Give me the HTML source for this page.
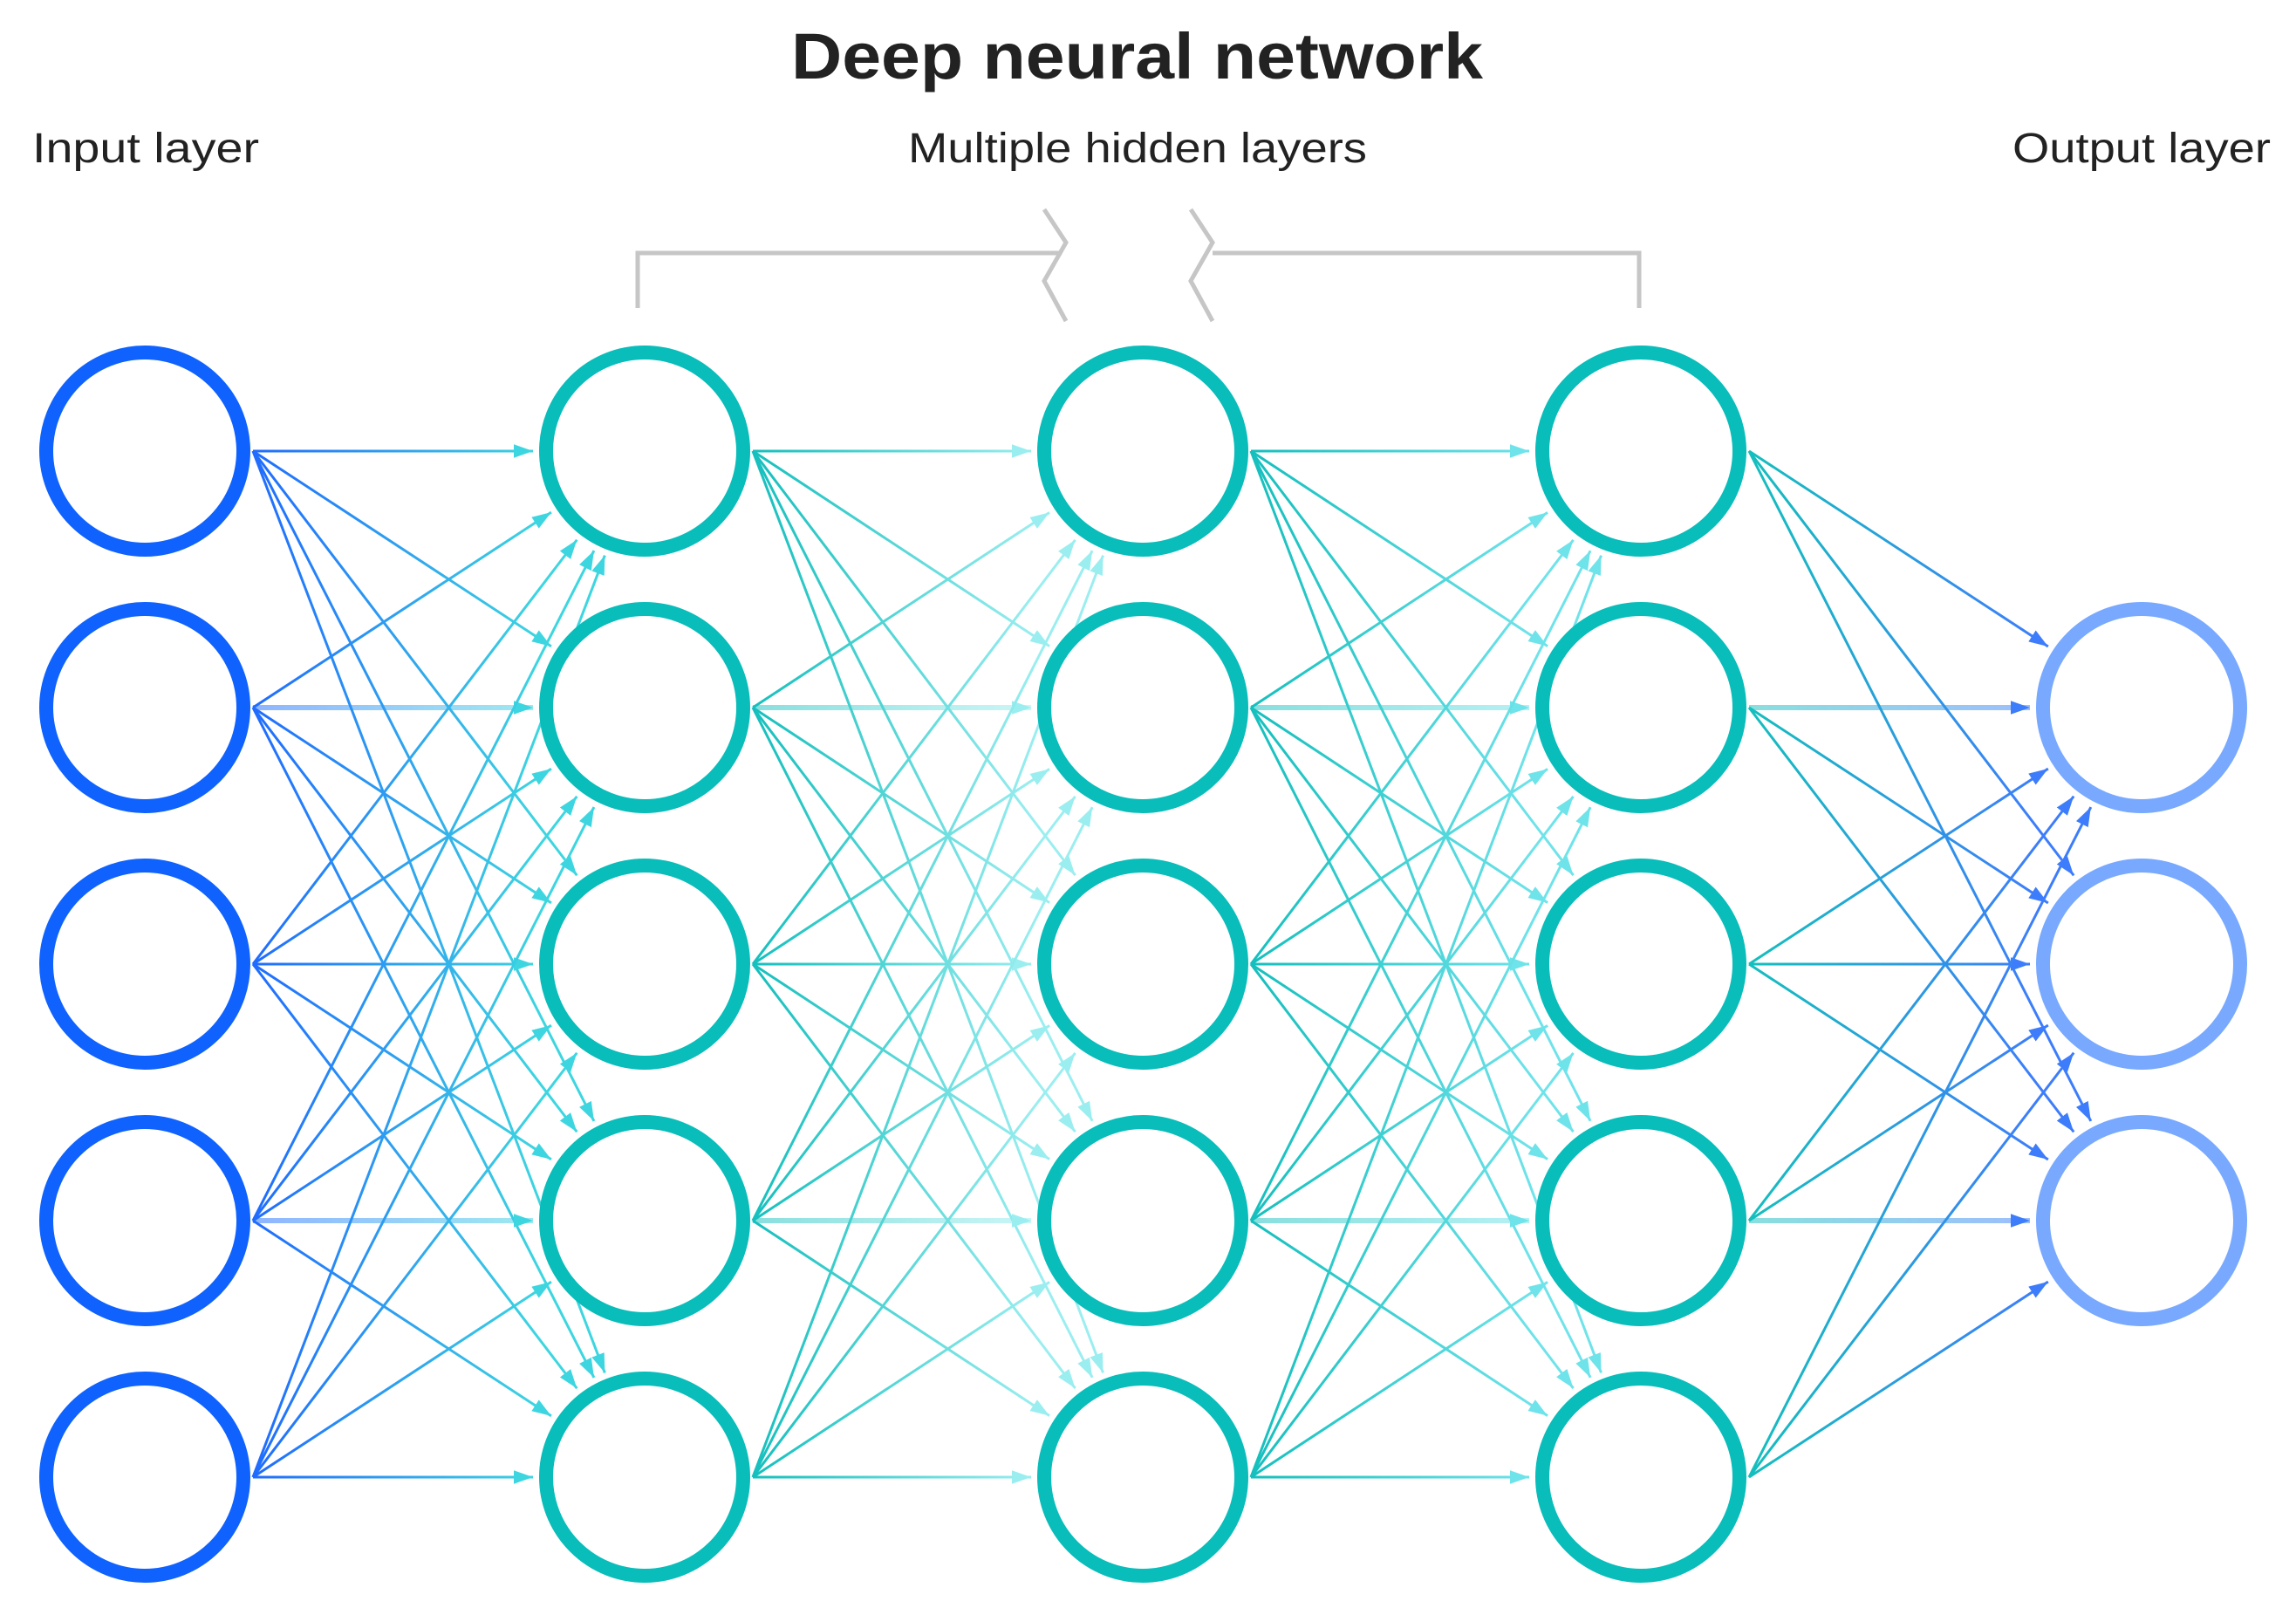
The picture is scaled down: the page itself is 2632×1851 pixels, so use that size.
<!DOCTYPE html>
<html><head><meta charset="utf-8">
<style>
html,body{margin:0;padding:0;background:#fff;}
svg{display:block;}
text{font-family:"Liberation Sans",sans-serif;fill:#222;}
</style></head>
<body>
<svg id="s" width="2632" height="1851" viewBox="0 0 2632 1851" xmlns="http://www.w3.org/2000/svg">
<defs>
<linearGradient id="g0" gradientUnits="userSpaceOnUse" x1="290" y1="0" x2="620" y2="0"><stop offset="0" stop-color="#1f6bff"/><stop offset="1" stop-color="#3dd6e0"/></linearGradient>
<linearGradient id="g1" gradientUnits="userSpaceOnUse" x1="863" y1="0" x2="1190" y2="0"><stop offset="0" stop-color="#14bfbd"/><stop offset="1" stop-color="#9beef0"/></linearGradient>
<linearGradient id="g2" gradientUnits="userSpaceOnUse" x1="1434" y1="0" x2="1760" y2="0"><stop offset="0" stop-color="#14bfbd"/><stop offset="1" stop-color="#6fe3ea"/></linearGradient>
<linearGradient id="g3" gradientUnits="userSpaceOnUse" x1="2005" y1="0" x2="2335" y2="0"><stop offset="0" stop-color="#14bfbd"/><stop offset="1" stop-color="#3d7dfb"/></linearGradient>
<marker id="m0" viewBox="0 0 10 10" refX="10" refY="5" markerWidth="22" markerHeight="22" orient="auto" markerUnits="userSpaceOnUse"><path d="M0,1.5L10,5L0,8.5z" fill="#3dd6e0"/></marker>
<marker id="m1" viewBox="0 0 10 10" refX="10" refY="5" markerWidth="22" markerHeight="22" orient="auto" markerUnits="userSpaceOnUse"><path d="M0,1.5L10,5L0,8.5z" fill="#9beef0"/></marker>
<marker id="m2" viewBox="0 0 10 10" refX="10" refY="5" markerWidth="22" markerHeight="22" orient="auto" markerUnits="userSpaceOnUse"><path d="M0,1.5L10,5L0,8.5z" fill="#6fe3ea"/></marker>
<marker id="m3" viewBox="0 0 10 10" refX="10" refY="5" markerWidth="22" markerHeight="22" orient="auto" markerUnits="userSpaceOnUse"><path d="M0,1.5L10,5L0,8.5z" fill="#3d7dfb"/></marker>
</defs>
<text x="907" y="90" font-size="74" font-weight="bold" textLength="793" lengthAdjust="spacingAndGlyphs">Deep neural network</text>
<text x="37" y="186" font-size="48" textLength="260" lengthAdjust="spacingAndGlyphs">Input layer</text>
<text x="1041" y="186" font-size="48" textLength="526" lengthAdjust="spacingAndGlyphs">Multiple hidden layers</text>
<text x="2307" y="186" font-size="48" textLength="296" lengthAdjust="spacingAndGlyphs">Output layer</text>
<g fill="none" stroke="#c6c6c6" stroke-width="5">
<path d="M731,353V290H1217"/>
<path d="M1197,240L1222,278L1197,322L1222,368"/>
<path d="M1879,353V290H1390"/>
<path d="M1365,240L1390,278L1365,322L1390,368"/>
</g>
<g id="edges"></g>
<g id="nodes" fill="#fff" stroke-width="16"></g>
</svg>
<script>
var X=[166,739,1310,1881,2455];
var R5=[517,811,1105,1399,1693], R3=[811,1105,1399];
var layers=[R5,R5,R5,R5,R3];
var cols=["#0f62fe","#08bdba","#08bdba","#08bdba","#78a9ff"];
var ns="http://www.w3.org/2000/svg";
var E=document.getElementById("edges"),N=document.getElementById("nodes");
for(var l=0;l<4;l++){
 var A=layers[l],B=layers[l+1];
 for(var i=0;i<A.length;i++)for(var j=0;j<B.length;j++){
  var x1=X[l]+124,y1=A[i],cx=X[l+1],cy=B[j];
  var dx=cx-x1,dy=cy-y1,d=Math.sqrt(dx*dx+dy*dy);
  var x2=cx-dx/d*128,y2=cy-dy/d*128;
  var p=document.createElementNS(ns,"line");
  p.setAttribute("x1",x1);p.setAttribute("y1",y1);p.setAttribute("x2",x2);p.setAttribute("y2",y2+(y1==cy?0.01:0));
  var thick=(y1==cy&&(i==1||i==3)&&A.length==5)||(y1==cy&&l==3&&(j==0||j==2));
  p.setAttribute("stroke","url(#g"+l+")");
  p.setAttribute("stroke-width",thick?6:3);
  if(thick)p.setAttribute("stroke-opacity","0.5");
  p.setAttribute("marker-end","url(#m"+l+")");
  E.appendChild(p);
 }
}
for(var l=0;l<5;l++)for(var i=0;i<layers[l].length;i++){
 var c=document.createElementNS(ns,"circle");
 c.setAttribute("cx",X[l]);c.setAttribute("cy",layers[l][i]);c.setAttribute("r",113);
 c.setAttribute("stroke",cols[l]);N.appendChild(c);
}
</script>
</body></html>
